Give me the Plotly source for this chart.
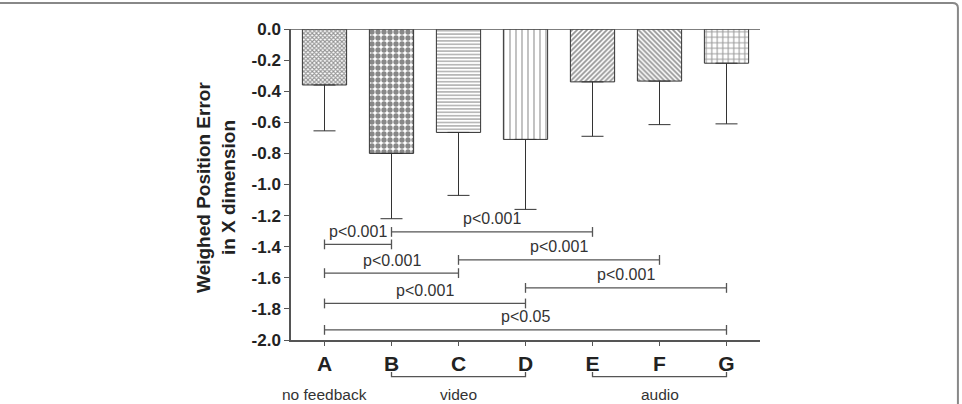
import plotly.graph_objects as go

# ---- data ----
categories = ["A", "B", "C", "D", "E", "F", "G"]
means = [-0.36, -0.80, -0.665, -0.71, -0.34, -0.335, -0.22]
sds = [0.295, 0.42, 0.405, 0.45, 0.35, 0.28, 0.39]
y_ticks = [0.0, -0.2, -0.4, -0.6, -0.8, -1.0, -1.2, -1.4, -1.6, -1.8, -2.0]

# pairwise comparisons: (from index, to index, bracket level, label)
comp_from = [0, 1, 0, 2, 0, 3, 0]
comp_to = [1, 4, 2, 5, 3, 6, 6]
comp_level = [-1.385, -1.305, -1.57, -1.485, -1.765, -1.665, -1.935]
comp_label = ["p<0.001", "p<0.001", "p<0.001", "p<0.001", "p<0.001", "p<0.001", "p<0.05"]

# condition groups shown under the axis
group_names = ["no feedback", "video", "audio"]
group_start = [0, 1, 4]
group_end = [0, 3, 6]

# ---- style ----
patterns = [
    dict(shape="x", size=3, solidity=0.6, fgcolor="#2a2a2a", bgcolor="white"),
    dict(shape=".", size=6, solidity=0.62, fgcolor="#111", bgcolor="white"),
    dict(shape="-", size=3.4, solidity=0.35, fgcolor="#333", bgcolor="white"),
    dict(shape="|", size=6, solidity=0.2, fgcolor="#333", bgcolor="white"),
    dict(shape="/", size=3.5, solidity=0.5, fgcolor="#2a2a2a", bgcolor="white"),
    dict(shape="\\", size=3.5, solidity=0.5, fgcolor="#2a2a2a", bgcolor="white"),
    dict(shape="+", size=5.5, solidity=0.35, fgcolor="#333", bgcolor="white"),
]
FONT = "Liberation Sans, Arial, sans-serif"
LINE = "#555"

xs = list(range(len(categories)))
fig = go.Figure()
for i in xs:
    fig.add_trace(go.Bar(
        x=[i], y=[means[i]], width=0.66,
        marker=dict(color="white", pattern=patterns[i],
                    line=dict(color="#333", width=1)),
        error_y=dict(type="data", symmetric=False, array=[0], arrayminus=[sds[i]],
                     color="#333", thickness=1, width=11),
        showlegend=False, hoverinfo="skip",
    ))

annotations = []
for a, b, lev, lab in zip(comp_from, comp_to, comp_level, comp_label):
    fig.add_trace(go.Scatter(
        x=[a, b], y=[lev, lev], mode="lines+markers",
        line=dict(color=LINE, width=1.3),
        marker=dict(symbol="line-ns", size=7, line=dict(color=LINE, width=1.3)),
        showlegend=False, hoverinfo="skip", cliponaxis=False,
    ))
    annotations.append(dict(
        x=(a + b) / 2, y=lev, xref="x", yref="y", yshift=13,
        text=lab.replace("<", "&lt;"), showarrow=False,
        font=dict(family=FONT, size=16, color="#333"),
    ))

shapes = [
    # zero line at top
    dict(type="line", xref="paper", yref="y", x0=0, x1=1, y0=0, y1=0,
         line=dict(color=LINE, width=1.5)),
    # outer frame (top + right, rounded corner)
    dict(type="path", xref="paper", yref="paper",
         path="M -0.63,1.0836 L 1.41,1.0836 Q 1.422,1.0836 1.422,1.068 L 1.422,-0.22",
         line=dict(color="#888", width=2)),
]
for name, s, e in zip(group_names, group_start, group_end):
    if e > s:
        shapes.append(dict(
            type="path", xref="x", yref="paper",
            path=f"M {s},-0.103 L {s},-0.118 L {e},-0.118 L {e},-0.103",
            line=dict(color=LINE, width=1.3)))
    annotations.append(dict(
        x=(s + e) / 2, y=-0.174, xref="x", yref="paper", yanchor="middle",
        text=name, showarrow=False,
        font=dict(family=FONT, size=15.5, color="#333")))

annotations.append(dict(
    x=-0.16, y=0.492, xref="paper", yref="paper", xanchor="center", yanchor="middle",
    text="<b>Weighed Position Error<br>in X dimension</b>", textangle=-90,
    showarrow=False, font=dict(family=FONT, size=19, color="#222")))

fig.update_layout(
    width=962, height=404,
    margin=dict(l=291, r=202, t=29, b=64),
    paper_bgcolor="white", plot_bgcolor="white",
    showlegend=False, barmode="overlay",
    xaxis=dict(range=[-0.5, 6.5], tickvals=xs, ticktext=[f"<b>{c}</b>" for c in categories],
               ticks="outside", ticklen=4, tickcolor=LINE, showline=True,
               linecolor=LINE, linewidth=1.5, showgrid=False, zeroline=False,
               tickfont=dict(family=FONT, size=21, color="#222")),
    yaxis=dict(range=[-2.0, 0.0], tickvals=y_ticks,
               ticktext=[f"<b>{v:.1f}</b>" for v in y_ticks],
               ticks="outside", ticklen=5, tickcolor=LINE, showline=True,
               linecolor=LINE, linewidth=1.5, showgrid=False, zeroline=False,
               tickfont=dict(family=FONT, size=17, color="#222")),
    shapes=shapes, annotations=annotations,
)
fig.write_html("out.html")
